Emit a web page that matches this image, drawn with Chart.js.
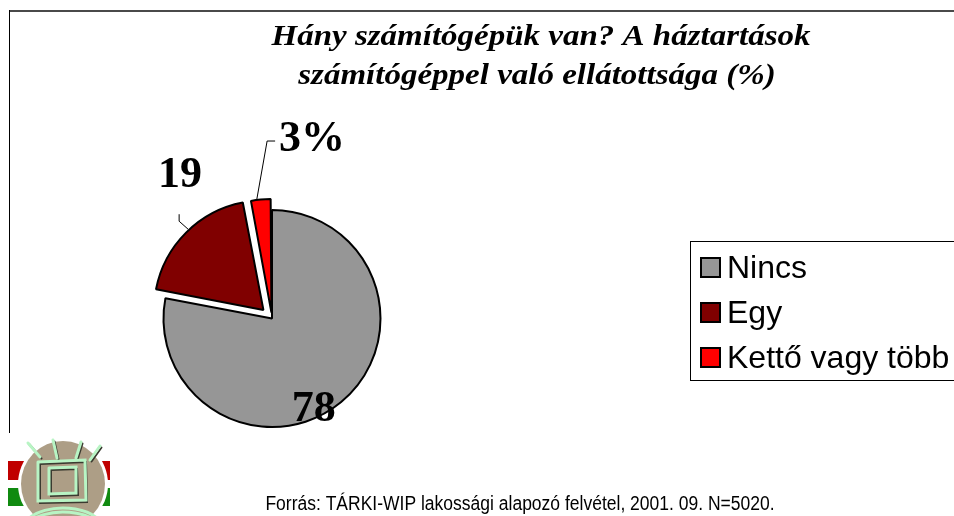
<!DOCTYPE html>
<html><head><meta charset="utf-8">
<script src="https://cdn.jsdelivr.net/npm/chart.js@4"></script>
<style>
html,body{margin:0;padding:0;background:#fff;}
#wrap{position:relative;width:954px;height:516px;overflow:hidden;}
canvas{display:block}
</style></head><body>
<div id="wrap"><canvas id="c" width="954" height="516"></canvas></div>
<script>
// ---- data ----
const categories = ['Nincs', 'Egy', 'Kettő vagy több'];
const values = [78, 19, 3];
const valueLabels = ['78', '19', '3%'];
const titleLines = ['Hány számítógépük van? A háztartások', 'számítógéppel való ellátottsága (%)'];
const sourceText = 'Forrás: TÁRKI-WIP lakossági alapozó felvétel, 2001. 09. N=5020.';

// ---- style ----
const colors = ['#969696', '#800000', '#FF0000'];
const explodePx = [0, 13, 11];           // wanted visual shift of each slice, px
// label placement: angle shift from slice middle (deg), distance from slice centre (px)
const labelPlace = [
  {shift: 15, dist: 100, leader: null},
  {shift: 13.2, dist: 157, leader: 'tick'},
  {shift: 19.2, dist: 172.5, leader: 'elbow'}
];

const deg = Math.PI / 180;
const total = values.reduce((a, b) => a + b, 0);
// Chart.js v4 arc translation = offset/4 * (1 + (1 - sin(min(PI, circumference))))
function toChartOffset(px, v) {
  const circ = v / total * 2 * Math.PI;
  const fix = 1 - Math.sin(Math.min(Math.PI, circ));
  return px * 4 / (1 + fix);
}
const offsets = values.map((v, i) => toChartOffset(explodePx[i], v));

function arcCentre(arc, shift) {
  const mid = (arc.startAngle + arc.endAngle) / 2;
  return {x: arc.x + Math.cos(mid) * shift, y: arc.y + Math.sin(mid) * shift, mid};
}

const decor = {
  id: 'decor',
  beforeDraw(chart) {
    const ctx = chart.ctx;
    ctx.save();
    ctx.fillStyle = '#fff';
    ctx.fillRect(0, 0, chart.width, chart.height);
    ctx.fillStyle = '#4a4a4a';
    ctx.fillRect(9, 10, 945, 2);
    ctx.fillStyle = '#000';
    ctx.fillRect(9, 10, 1, 423);
    ctx.restore();
  },
  afterDraw(chart) {
    const ctx = chart.ctx;
    const meta = chart.getDatasetMeta(0);
    ctx.save();
    // title
    ctx.fillStyle = '#000';
    ctx.textAlign = 'center';
    ctx.textBaseline = 'alphabetic';
    ctx.font = 'italic bold 30px "Liberation Serif", "DejaVu Serif", serif';
    [[titleLines[0], 541, 45], [titleLines[1], 537, 84]].forEach(([t, x, y]) => {
      ctx.save();
      ctx.translate(x, y);
      ctx.scale(1.1, 1);
      ctx.fillText(t, 0, 0);
      ctx.restore();
    });

    // value labels and leaders
    ctx.font = 'bold 44px "Liberation Serif", serif';
    meta.data.forEach((arc, i) => {
      const p = labelPlace[i];
      const c = arcCentre(arc, explodePx[i]);
      const a = c.mid + p.shift * deg;
      const lx = c.x + Math.cos(a) * p.dist;
      const ly = c.y + Math.sin(a) * p.dist;
      ctx.fillStyle = '#000';
      ctx.textAlign = 'center';
      ctx.textBaseline = 'middle';
      ctx.fillText(valueLabels[i], lx, ly);
      const R = arc.outerRadius;
      ctx.strokeStyle = '#000';
      ctx.lineWidth = 1;
      if (p.leader === 'elbow') {
        const sa = c.mid - 2 * deg;
        const sx = c.x + Math.cos(sa) * (R + 1), sy = c.y + Math.sin(sa) * (R + 1);
        const w = ctx.measureText(valueLabels[i]).width;
        const left = lx - w / 2;
        ctx.beginPath();
        ctx.moveTo(sx, sy);
        ctx.lineTo(left - 12, ly + 1);
        ctx.lineTo(left - 4, ly + 1);
        ctx.stroke();
      } else if (p.leader === 'tick') {
        const sa = c.mid + 2 * deg;
        const sx = c.x + Math.cos(sa) * (R + 1), sy = c.y + Math.sin(sa) * (R + 1);
        ctx.beginPath();
        ctx.moveTo(sx, sy);
        ctx.lineTo(sx - 9, sy - 8);
        ctx.lineTo(sx - 9, sy - 15);
        ctx.stroke();
      }
    });

    // legend
    ctx.strokeStyle = '#000';
    ctx.lineWidth = 1;
    ctx.strokeRect(690.5, 241.5, 300, 139);
    ctx.font = '32px "Liberation Sans", Arial, sans-serif';
    ctx.textAlign = 'left';
    ctx.textBaseline = 'middle';
    categories.forEach((name, i) => {
      const cy = 268 + i * 45;
      ctx.fillStyle = colors[i];
      ctx.fillRect(701, cy - 10, 19, 19);
      ctx.lineWidth = 2;
      ctx.strokeStyle = '#000';
      ctx.strokeRect(701, cy - 10, 19, 19);
      ctx.fillStyle = '#000';
      ctx.fillText(name, 727, cy + 1);
    });

    // source
    ctx.font = '20px "Liberation Sans", Arial, sans-serif';
    ctx.textAlign = 'center';
    ctx.textBaseline = 'alphabetic';
    ctx.save();
    ctx.translate(520, 510);
    ctx.scale(0.875, 1);
    ctx.fillText(sourceText, 0, 0);
    ctx.restore();

    // logo
    ctx.fillStyle = '#c00000';
    ctx.fillRect(8, 461, 102, 19);
    ctx.fillStyle = '#108a10';
    ctx.fillRect(8, 488, 102, 18);
    ctx.fillStyle = '#fff';
    ctx.beginPath(); ctx.ellipse(63, 484, 45, 46, 0, 0, 2 * Math.PI); ctx.fill();
    ctx.fillStyle = '#ad9e86';
    ctx.beginPath(); ctx.ellipse(63, 484, 42, 43, 0, 0, 2 * Math.PI); ctx.fill();
    const g = '#b8f4c4', sh = '#3a3a30';
    function line(pts, col, w) {
      ctx.strokeStyle = col; ctx.lineWidth = w; ctx.lineCap = 'round';
      ctx.beginPath(); ctx.moveTo(pts[0], pts[1]);
      for (let k = 2; k < pts.length; k += 2) ctx.lineTo(pts[k], pts[k + 1]);
      ctx.stroke();
    }
    const rays = [[28,443,40,457],[53,440,57,458],[81,442,76,458],[100,446,90,460]];
    rays.forEach(r => { line([r[0]+1.5,r[1]+1.5,r[2]+1.5,r[3]+1.5], sh, 2); line(r, g, 3); });
    line([40,464,86,462,87,502,40,503,40,464], sh, 2);
    line([38,462,85,460,86,500,38,501,38,462], g, 3);
    line([51,470,77,469,78,495,51,496,51,470], sh, 2);
    line([49,468,76,467,76,493,49,494,49,468], g, 3);
    ctx.strokeStyle = g; ctx.lineWidth = 3;
    ctx.beginPath(); ctx.ellipse(63, 530, 40, 22, 0, Math.PI * 1.1, Math.PI * 1.9); ctx.stroke();
    ctx.beginPath(); ctx.ellipse(63, 538, 44, 26, 0, Math.PI * 1.1, Math.PI * 1.9); ctx.stroke();
    ctx.restore();
  }
};

new Chart(document.getElementById('c'), {
  type: 'pie',
  data: {
    labels: categories,
    datasets: [{
      data: values,
      backgroundColor: colors,
      borderColor: '#000',
      borderWidth: 2,
      offset: offsets,
      hoverOffset: 0
    }]
  },
  options: {
    responsive: false,
    animation: false,
    radius: 108.5,
    layout: {padding: {left: 0, right: 410, top: 121, bottom: 0}},
    plugins: {legend: {display: false}, title: {display: false}, tooltip: {enabled: false}},
    events: []
  },
  plugins: [decor]
});
</script>
</body></html>
